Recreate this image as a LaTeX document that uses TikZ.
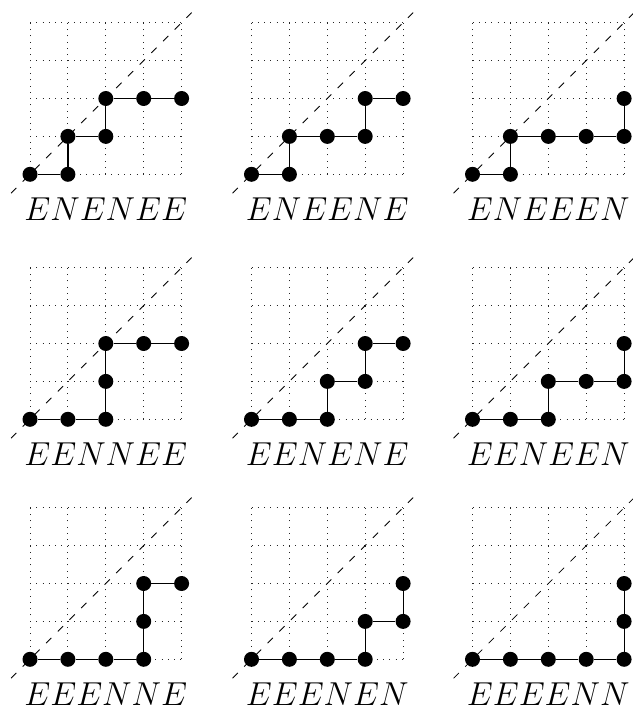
\documentclass[tikz,border=0pt]{standalone}
\tikzset{
  gridline/.style={line width=0.75pt, dash pattern=on 0.75pt off 3.95pt, black!85},
  diag/.style={line width=0.6pt, dash pattern=on 5.6pt off 6.8pt},
  dot/.style={circle, fill=black, draw=none, inner sep=0pt, minimum size=11.25pt},
  edge/.style={line width=0.9pt},
  lbl/.style={anchor=base, inner sep=0pt, font=\Huge}
}
\newcommand\drawpanel[5]{%
\begin{scope}[shift={(#1,#2)}, x=28.425pt, y=28.425pt]
  \foreach \k in {0,...,4} {\draw[gridline] (\k,0) -- (\k,4); \draw[gridline] (0,\k) -- (4,\k);}
  \coordinate (#3-d0) at (-0.5,-0.5);
  \coordinate (#3-d1) at (4.4,4.4);
  \draw[diag] (#3-d0) -- (#3-d1);
  \foreach \px/\py [count=\i] in {#4} {\node[dot] (#3-\i) at (\px,\py) {};}
  \foreach \i/\j in {1/2,2/3,3/4,4/5,5/6,6/7} {\draw[edge] (#3-\i) -- (#3-\j);}
  \node[lbl] (#3-lbl) at (2,-1.21) {$#5$};
\end{scope}}
\begin{document}
\begin{tikzpicture}[x=0.75pt, y=-0.75pt]
\useasboundingbox (0,0) rectangle (632,713);
\drawpanel{30}{174.3}{a}{0/0,1/0,1/1,2/1,2/2,3/2,4/2}{ENENEE}
\drawpanel{251.5}{174.3}{b}{0/0,1/0,1/1,2/1,3/1,3/2,4/2}{ENEENE}
\drawpanel{472.5}{174.3}{c}{0/0,1/0,1/1,2/1,3/1,4/1,4/2}{ENEEEN}
\drawpanel{30}{419.3}{d}{0/0,1/0,2/0,2/1,2/2,3/2,4/2}{EENNEE}
\drawpanel{251.5}{419.3}{e}{0/0,1/0,2/0,2/1,3/1,3/2,4/2}{EENENE}
\drawpanel{472.5}{419.3}{f}{0/0,1/0,2/0,2/1,3/1,4/1,4/2}{EENEEN}
\drawpanel{30}{659.3}{g}{0/0,1/0,2/0,3/0,3/1,3/2,4/2}{EEENNE}
\drawpanel{251.5}{659.3}{h}{0/0,1/0,2/0,3/0,3/1,4/1,4/2}{EEENEN}
\drawpanel{472.5}{659.3}{i}{0/0,1/0,2/0,3/0,4/0,4/1,4/2}{EEEENN}
\end{tikzpicture}
\end{document}
